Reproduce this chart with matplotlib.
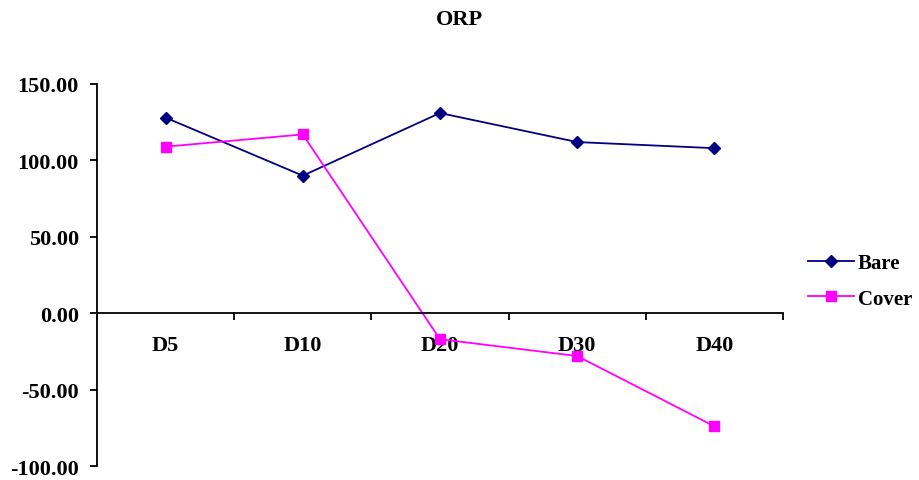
import matplotlib
matplotlib.use("Agg")
from matplotlib import pyplot as plt
from matplotlib.ticker import FixedLocator, FormatStrFormatter

days = ["D5", "D10", "D20", "D30", "D40"]
bare = [128, 90, 131, 112, 108]
cover = [109, 117, -17, -28, -74]

plt.rcParams['font.family'] = ['Liberation Serif', 'DejaVu Serif']
plt.rcParams['font.weight'] = 'bold'

fig = plt.figure(figsize=(9.19, 4.81), dpi=100)
ax = fig.add_axes([0.1055, 0.029, 0.7465, 0.7943])

x = [i + 0.5 for i in range(len(days))]
ax.plot(x, bare, color='#000080', marker='D', markersize=6, linewidth=1.3, label='Bare')
ax.plot(x, cover, color='#FF00FF', marker='s', markersize=6.5, linewidth=1.3, label='Cover')

ax.set_xlim(0, len(days))
ax.set_ylim(-100, 150)
ax.yaxis.set_major_locator(FixedLocator([-100, -50, 0, 50, 100, 150]))
ax.yaxis.set_major_formatter(FormatStrFormatter('%.2f'))

# x axis drawn through zero, ticks between categories, labels centred
ax.spines['top'].set_visible(False)
ax.spines['right'].set_visible(False)
ax.spines['bottom'].set_position(('data', 0))
ax.spines['left'].set_linewidth(1.3)
ax.spines['bottom'].set_linewidth(1.3)
ax.xaxis.set_major_locator(FixedLocator(range(len(days) + 1)))
ax.xaxis.set_major_formatter(plt.NullFormatter())
ax.xaxis.set_minor_locator(FixedLocator(x))
ax.set_xticklabels(days, minor=True)
ax.tick_params(axis='x', which='major', direction='out', length=5, width=1.3)
ax.tick_params(axis='x', which='minor', length=0, pad=16, labelsize=16)
ax.tick_params(axis='y', direction='out', length=5, width=1.3, labelsize=16, pad=8)
for lbl in ax.get_xticklabels(minor=True) + ax.get_yticklabels():
    lbl.set_fontweight('bold')

fig.text(0.5, 0.958, "ORP", ha='center', va='center', fontsize=16, fontweight='bold')

fig.legend(loc='center left', bbox_to_anchor=(0.879, 0.414), frameon=False,
           borderpad=0, borderaxespad=0,
           prop={'size': 15, 'weight': 'bold'}, handlelength=2.2,
           labelspacing=0.75, handletextpad=0.2)

fig.savefig("out.png", dpi=100)
